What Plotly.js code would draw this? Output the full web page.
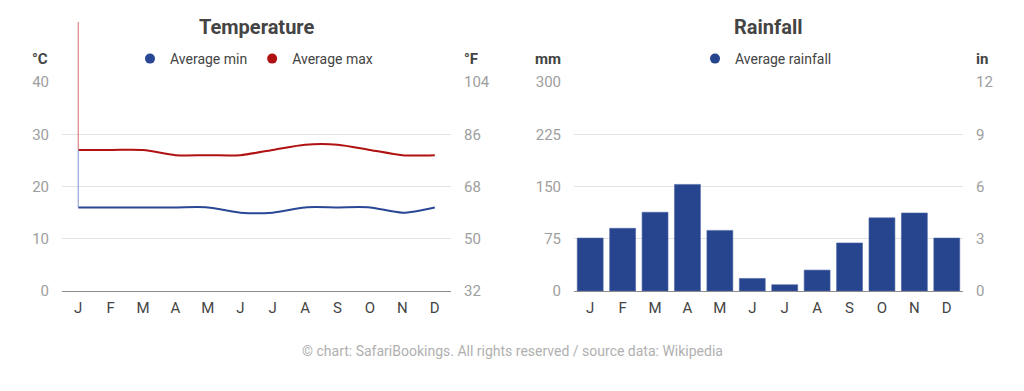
<!DOCTYPE html>
<html><head><meta charset="utf-8">
<script src="https://cdn.plot.ly/plotly-3.0.1.min.js"></script>
<style>html,body{margin:0;padding:0;background:#fff;}#chart{width:1024px;height:391px;}</style>
</head><body><div id="chart"></div>
<script>
const monthLabels = ['J','F','M','A','M','J','J','A','S','O','N','D'];
const monthIdx = [0,1,2,3,4,5,6,7,8,9,10,11];
const avgMin = [16,16,16,16,16,15,15,16,16,16,15,16];
const avgMax = [27,27,27,26,26,26,27,28,28,27,26,26];
const rainfall = [76,90,113,153,87,18,9,30,69,105,112,76];
const cTicks = [0,10,20,30,40];
const fTicks = [32,50,68,86,104];
const mmTicks = [0,75,150,225,300];
const inTicks = [0,3,6,9,12];

const RED = '#b01111', BLUE = '#2a4796', BAR = '#27458e';
const FONT = 'Roboto, Liberation Sans, Arial, sans-serif';
const domL = [62/1024, 451/1024], domR = [574/1024, 963/1024];
const domY = [(391-291)/391, (391-82)/391];

const tickFont = {family: FONT, size: 15, color: '#9e9e9e'};
const monthFont = {family: FONT, size: 15, color: '#444'};

function xAxis(dom, anchor) {
  return {domain: dom, anchor: anchor, range: [-0.5, 11.5], tickvals: monthIdx, ticktext: monthLabels,
    showgrid: false, zeroline: false, showline: false, ticks: '', tickfont: monthFont, ticklabelstandoff: 6, fixedrange: true};
}
function yAxis(range, tv, side, overlay, anchor) {
  const a = {domain: domY, range: range, tickvals: tv, side: side, anchor: anchor,
    showgrid: !overlay, gridcolor: '#e3e3e3', gridwidth: 1, zeroline: !overlay, zerolinecolor: '#8c8c8c', zerolinewidth: 1,
    showline: false, ticks: '', tickfont: tickFont, ticklabelstandoff: 12, fixedrange: true};
  if (overlay) a.overlaying = overlay;
  return a;
}

const traces = [
  {x: monthIdx, y: avgMin, xaxis: 'x', yaxis: 'y', type: 'scatter', mode: 'lines',
   line: {color: BLUE, width: 2, shape: 'spline', smoothing: 0.8}, showlegend: false, hoverinfo: 'skip'},
  {x: monthIdx, y: avgMax, xaxis: 'x', yaxis: 'y', type: 'scatter', mode: 'lines',
   line: {color: RED, width: 2, shape: 'spline', smoothing: 0.8}, showlegend: false, hoverinfo: 'skip'},
  {x: [null], y: [null], xaxis: 'x', yaxis: 'y2', type: 'scatter', mode: 'markers', showlegend: false},
  {x: [null], y: [null], xaxis: 'x', yaxis: 'y', type: 'scatter', mode: 'markers', name: 'Average min',
   marker: {color: BLUE, size: 10}, legend: 'legend'},
  {x: [null], y: [null], xaxis: 'x', yaxis: 'y', type: 'scatter', mode: 'markers', name: 'Average max',
   marker: {color: RED, size: 10}, legend: 'legend'},
  {x: monthIdx, y: rainfall, xaxis: 'x2', yaxis: 'y3', type: 'bar', marker: {color: BAR, line: {color: '#4d66a6', width: 0.6}},
   showlegend: false, hoverinfo: 'skip'},
  {x: [null], y: [null], xaxis: 'x2', yaxis: 'y4', type: 'scatter', mode: 'markers', showlegend: false},
  {x: [null], y: [null], xaxis: 'x2', yaxis: 'y3', type: 'scatter', mode: 'markers', name: 'Average rainfall',
   marker: {color: BAR, size: 10}, legend: 'legend2'}
];

function pY(v, lo, hi) { return domY[0] + (v - lo) / (hi - lo) * (domY[1] - domY[0]); }

const ann = (text, x, y, size, bold, color) => ({text: bold ? '<b>' + text + '</b>' : text, x: x, y: y,
  xref: 'paper', yref: 'paper', xanchor: 'center', yanchor: 'middle', showarrow: false,
  font: {family: FONT, size: size, color: color}});

const layout = {
  width: 1024, height: 391, margin: {l: 0, r: 0, t: 0, b: 0},
  paper_bgcolor: '#fff', plot_bgcolor: '#fff', bargap: 0.2,
  font: {family: FONT},
  xaxis: xAxis(domL, 'y'),
  yaxis: yAxis([0, 40], cTicks, 'left', null, 'x'),
  yaxis2: yAxis([32, 104], fTicks, 'right', 'y', 'x'),
  xaxis2: xAxis(domR, 'y3'),
  yaxis3: yAxis([0, 300], mmTicks, 'left', null, 'x2'),
  yaxis4: yAxis([0, 12], inTicks, 'right', 'y3', 'x2'),
  legend: {orientation: 'h', x: 254/1024, xanchor: 'center', y: (391-59)/391, yanchor: 'middle',
    font: {family: FONT, size: 14, color: '#444'}, bgcolor: 'rgba(0,0,0,0)'},
  legend2: {orientation: 'h', x: 766/1024, xanchor: 'center', y: (391-59)/391, yanchor: 'middle',
    font: {family: FONT, size: 14, color: '#444'}, bgcolor: 'rgba(0,0,0,0)'},
  annotations: [
    ann('Temperature', 256/1024, (391-27)/391, 20, true, '#444'),
    ann('Rainfall', 768/1024, (391-27)/391, 20, true, '#444'),
    ann('°C', 40/1024, (391-59)/391, 15, true, '#444'),
    ann('°F', 471/1024, (391-59)/391, 15, true, '#444'),
    ann('mm', 548/1024, (391-59)/391, 15, true, '#444'),
    ann('in', 982/1024, (391-59)/391, 15, true, '#444'),
    ann('© chart: SafariBookings. All rights reserved / source data: Wikipedia', 0.5, (391-351)/391, 14, false, '#b0b0b0')
  ],
  shapes: [
    {type: 'line', xref: 'x', yref: 'paper', x0: monthIdx[0], x1: monthIdx[0], y0: pY(avgMax[0], 0, 40), y1: (391-22)/391,
     line: {color: '#d56a6a', width: 1}},
    {type: 'line', xref: 'x', yref: 'paper', x0: monthIdx[0], x1: monthIdx[0], y0: pY(avgMin[0], 0, 40), y1: pY(avgMax[0], 0, 40),
     line: {color: '#7d95cf', width: 1}}
  ]
};

Plotly.newPlot('chart', traces, layout, {staticPlot: true, displayModeBar: false});
</script></body></html>
